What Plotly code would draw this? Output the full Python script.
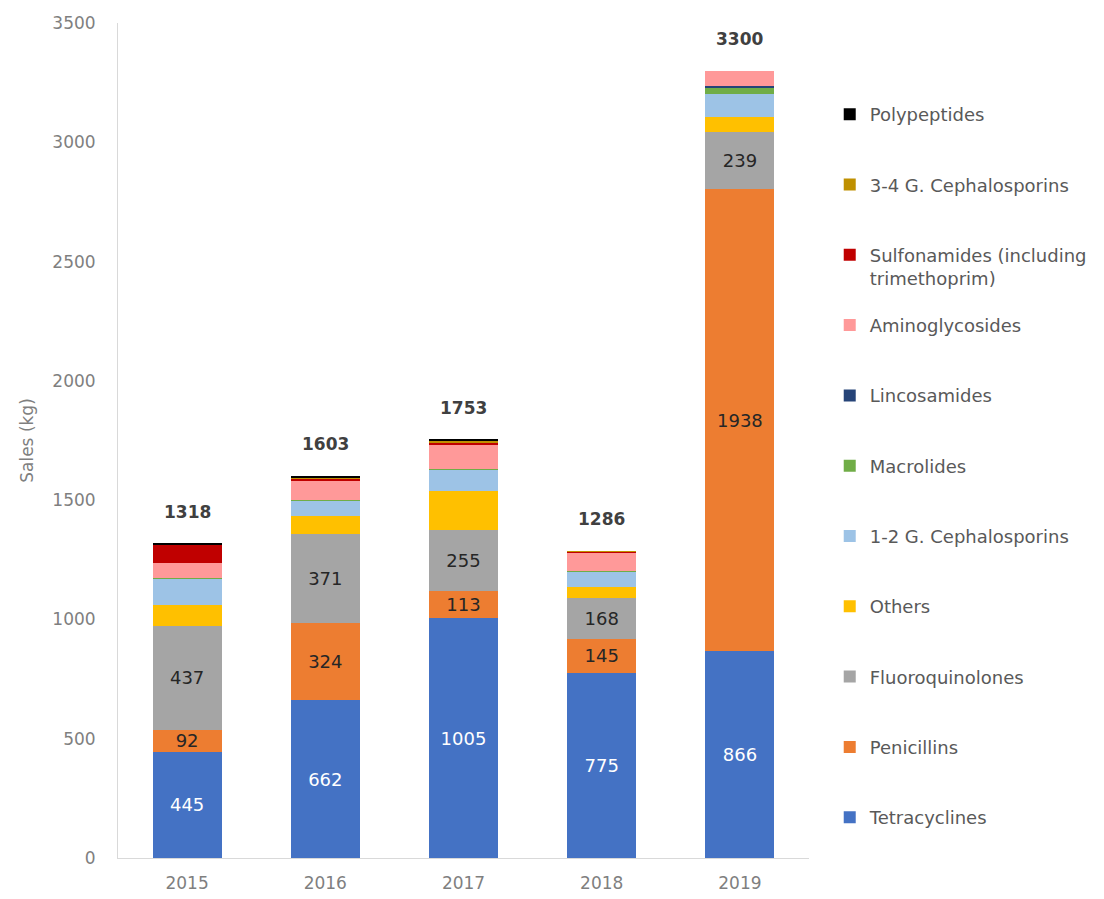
import plotly.graph_objects as go

# antimicrobial sales per class, kg
years = ["2015", "2016", "2017", "2018", "2019"]
tetracyclines = [445, 662, 1005, 775, 866]
penicillins = [92, 324, 113, 145, 1938]
fluoroquinolones = [437, 371, 255, 168, 239]
others = [86, 75, 167, 47, 64]
ceph_1_2 = [110, 65, 90, 65, 97]
macrolides = [5, 3, 2, 4, 25]
lincosamides = [0, 0, 0, 0, 8]
aminoglycosides = [60, 80, 100, 78, 63]
sulfonamides = [77, 10, 8, 2, 0]
ceph_3_4 = [4, 3, 11, 2, 0]
polypeptides = [2, 10, 2, 0, 0]
totals = [1318, 1603, 1753, 1286, 3300]

FONT = "DejaVu Sans"

# (name, values, colour, show labels, label colour) bottom -> top
series = [
    ("Tetracyclines", tetracyclines, "#4472C4", True, "white"),
    ("Penicillins", penicillins, "#ED7D31", True, "#262626"),
    ("Fluoroquinolones", fluoroquinolones, "#A5A5A5", True, "#262626"),
    ("Others", others, "#FFC000", False, None),
    ("1-2 G. Cephalosporins", ceph_1_2, "#9DC3E6", False, None),
    ("Macrolides", macrolides, "#70AD47", False, None),
    ("Lincosamides", lincosamides, "#264478", False, None),
    ("Aminoglycosides", aminoglycosides, "#FF9999", False, None),
    ("Sulfonamides (including<br>trimethoprim)", sulfonamides, "#C00000", False, None),
    ("3-4 G. Cephalosporins", ceph_3_4, "#BF9000", False, None),
    ("Polypeptides", polypeptides, "#000000", False, None),
]

fig = go.Figure()
for i, (name, vals, col, lab, labcol) in enumerate(series):
    # blank second line keeps every legend entry as tall as the wrapped one
    legend_name = name if "<br>" in name else name + "<br> "
    fig.add_trace(go.Bar(
        x=years, y=vals, name=legend_name, legendgroup=name,
        legendrank=1000 - i,
        marker=dict(color=col, line=dict(width=0)),
        text=[str(v) for v in vals] if lab else None,
        textposition="inside" if lab else "none",
        insidetextanchor="middle",
        textangle=0,
        constraintext="none",
        textfont=dict(family=FONT, size=18, color=labcol or "#262626"),
        width=0.5,
    ))

# category axis: annotations take the category index
for idx, tot in enumerate(totals):
    fig.add_annotation(
        x=idx, y=tot, text="<b>%d</b>" % tot, showarrow=False,
        yanchor="bottom", yshift=20,
        font=dict(family=FONT, size=17, color="#404040"),
    )

fig.update_layout(
    barmode="stack",
    width=1096, height=891,
    margin=dict(l=110, r=292, t=15, b=41),
    paper_bgcolor="white", plot_bgcolor="white",
    font=dict(family=FONT, color="#7f7f7f"),
    legend=dict(
        traceorder="grouped", tracegroupgap=20.5, valign="top",
        x=1.03, xanchor="left", y=0.9126, yanchor="top",
        font=dict(family=FONT, size=18, color="#595959"),
        bgcolor="rgba(0,0,0,0)",
    ),
    xaxis=dict(
        type="category", automargin=False,
        showline=True, linecolor="#d9d9d9", linewidth=1, ticks="",
        ticklabelstandoff=10,
        tickfont=dict(size=17, color="#7f7f7f"),
    ),
    yaxis=dict(
        range=[0, 3500], dtick=500, showgrid=False, zeroline=False,
        automargin=False,
        showline=True, linecolor="#d9d9d9", linewidth=1, ticks="",
        ticklabelstandoff=18,
        tickfont=dict(size=17, color="#7f7f7f"),
        title=dict(text="Sales (kg)", font=dict(size=17, color="#7f7f7f"), standoff=14),
    ),
)

fig.write_html("out.html")
